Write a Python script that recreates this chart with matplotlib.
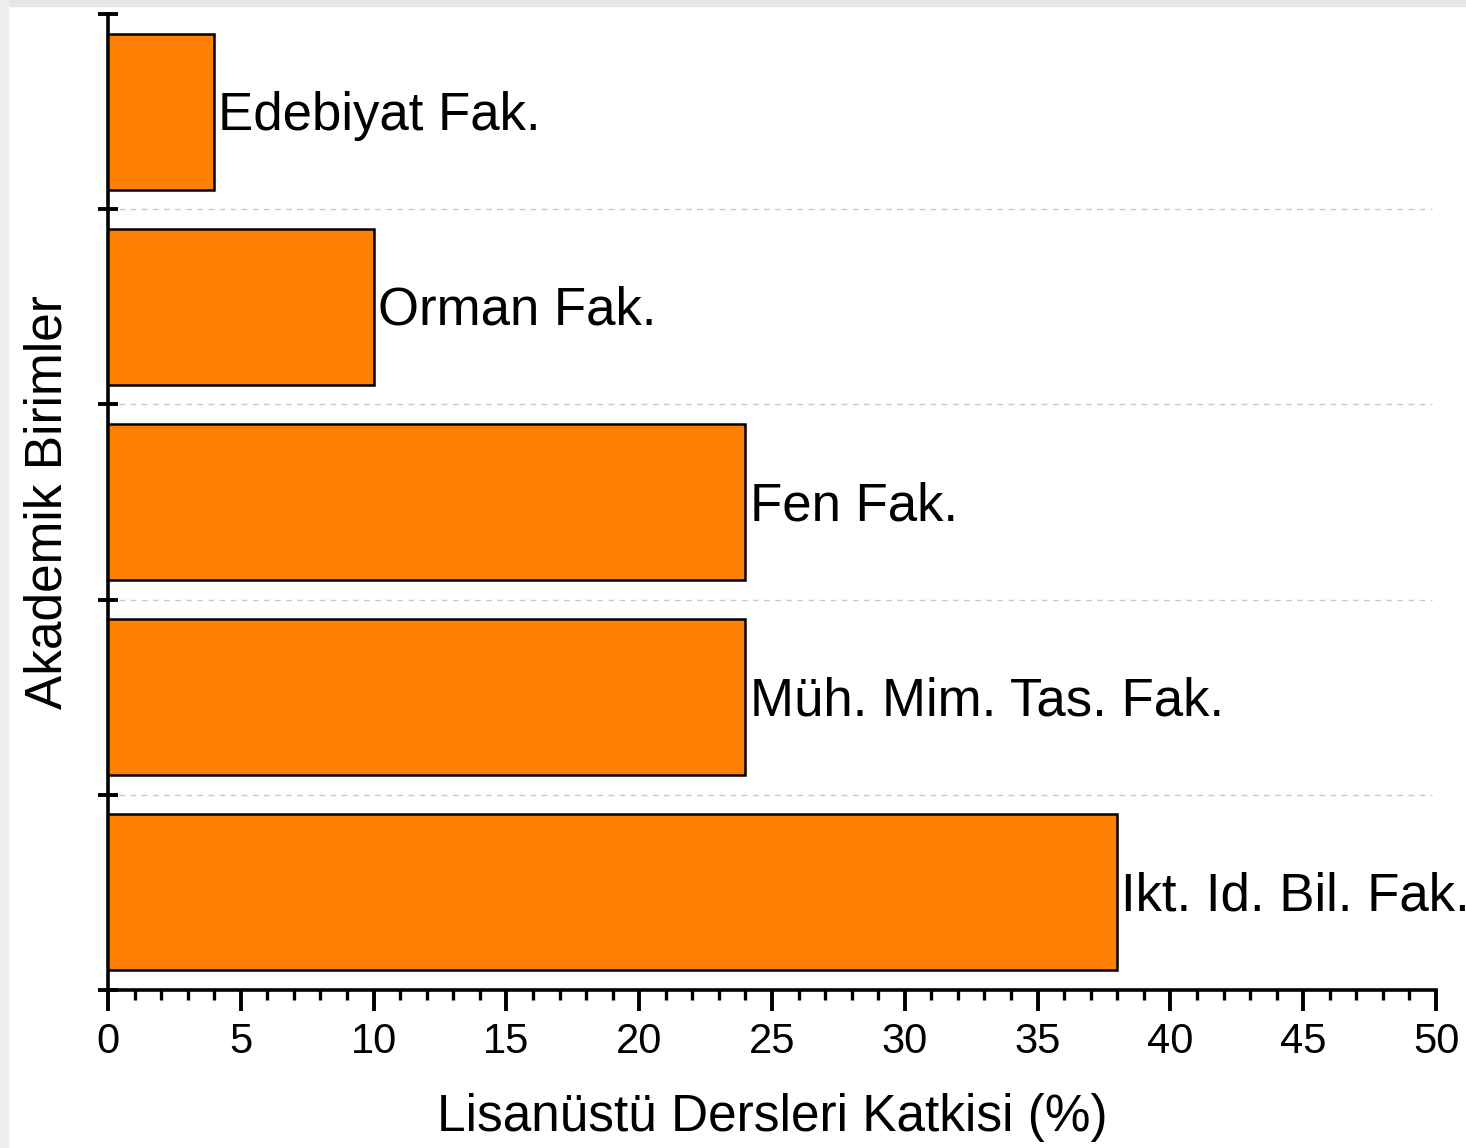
import matplotlib
matplotlib.use("Agg")
import matplotlib.pyplot as plt
from matplotlib.ticker import MultipleLocator
from matplotlib.patches import Rectangle

categories = ["Ikt. Id. Bil. Fak.", "Müh. Mim. Tas. Fak.", "Fen Fak.", "Orman Fak.", "Edebiyat Fak."]
values = [38, 24, 24, 10, 4]
xlabel = "Lisanüstü Dersleri Katkisi (%)"
ylabel = "Akademik Birimler"

plt.rcParams['font.family'] = ['Liberation Sans', 'DejaVu Sans']

W, H = 1466, 1148
fig = plt.figure(figsize=(W/100, H/100), dpi=100)
fig.patch.set_facecolor('white')
ax = fig.add_axes([108/W, 1-990/H, (1436-108)/W, (990-14)/H])

ypos = list(range(len(categories)))
ax.barh(ypos, values, height=0.8, color='#FF8000', edgecolor='black', linewidth=1.8, zorder=3)

for y, v, c in zip(ypos, values, categories):
    ax.annotate(c, xy=(v, y), xytext=(3, -3), textcoords='offset points',
                ha='left', va='center', fontsize=38, color='black',
                annotation_clip=False)

ax.set_xlim(0, 50)
ax.set_ylim(-0.5, len(categories) - 0.5)

# boundary gridlines
for b in [i + 0.5 for i in range(len(categories) - 1)]:
    ax.axhline(b, color='#c8c8c8', linestyle=(0, (4, 4)), linewidth=1.0, zorder=1, xmax=0.997)

ax.set_yticks([i - 0.5 for i in range(len(categories) + 1)])
ax.set_yticklabels([])
ax.tick_params(axis='y', which='major', direction='inout', length=15, width=2.8, left=True)

ax.xaxis.set_major_locator(MultipleLocator(5))
ax.xaxis.set_minor_locator(MultipleLocator(1))
ax.tick_params(axis='x', which='major', direction='out', length=15, width=2.8, labelsize=30, pad=8)
ax.tick_params(axis='x', which='minor', direction='out', length=7.5, width=2.4)

for s in ['top', 'right']:
    ax.spines[s].set_visible(False)
for s in ['left', 'bottom']:
    ax.spines[s].set_linewidth(2.6)

ax.set_xlabel(xlabel, fontsize=37)
ax.set_ylabel(ylabel, fontsize=37)
ax.xaxis.set_label_coords(0.5, -(1118-990)/(990-14), transform=ax.transAxes)
ax.xaxis.label.set_va('center')
ax.yaxis.set_label_coords(-(108-48)/(1436-108), 0.5, transform=ax.transAxes)
ax.yaxis.label.set_va('center')

# screenshot border tint
fig.patches.append(Rectangle((0, 1-6/H), 1, 6/H, transform=fig.transFigure, color='#e6e6e6', zorder=0))
fig.patches.append(Rectangle((0, 0), 8/W, 1, transform=fig.transFigure, color='#efefef', zorder=0))

fig.savefig("out.png", dpi=100)
